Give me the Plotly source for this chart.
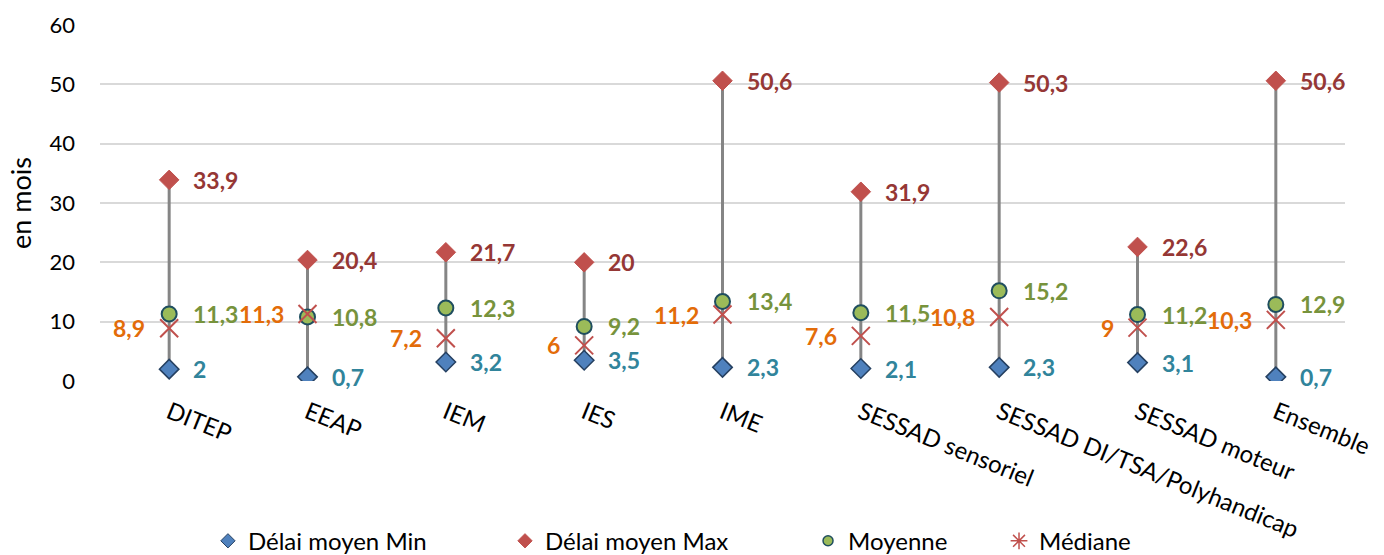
import plotly.graph_objects as go

categories = ["DITEP", "EEAP", "IEM", "IES", "IME", "SESSAD sensoriel",
              "SESSAD DI/TSA/Polyhandicap", "SESSAD moteur", "Ensemble"]
delai_min = [2, 0.7, 3.2, 3.5, 2.3, 2.1, 2.3, 3.1, 0.7]
delai_max = [33.9, 20.4, 21.7, 20, 50.6, 31.9, 50.3, 22.6, 50.6]
moyenne = [11.3, 10.8, 12.3, 9.2, 13.4, 11.5, 15.2, 11.2, 12.9]
mediane = [8.9, 11.3, 7.2, 6, 11.2, 7.6, 10.8, 9, 10.3]
y_ticks = [0, 10, 20, 30, 40, 50, 60]

FONT = "Lato"


def fr(v):
    s = f"{v:g}"
    return s.replace(".", ",")


# name, values, marker style in the plot, marker style in the legend, label colour, label side
series = [
    ("Délai moyen Min", delai_min,
     dict(symbol="diamond", size=15, color="#4F81BD", line=dict(color="#254061", width=1.5)),
     dict(symbol="diamond", size=11, color="#4F81BD", line=dict(color="#254061", width=1)),
     "#31849B", "left", "legend", 0.0867),
    ("Délai moyen Max", delai_max,
     dict(symbol="diamond", size=15, color="#C0504D", line=dict(color="#C0504D", width=1)),
     dict(symbol="diamond", size=11, color="#C0504D", line=dict(color="#C0504D", width=1)),
     "#953735", "left", "legend2", 0.3253),
    ("Moyenne", moyenne,
     dict(symbol="circle", size=15, color="#9BBB59", line=dict(color="#1F4E5F", width=2)),
     dict(symbol="circle", size=10, color="#9BBB59", line=dict(color="#1F4E5F", width=1.5)),
     "#77933C", "left", "legend3", 0.5687),
    ("Médiane", mediane,
     dict(symbol="x-thin", size=18, color="#C0504D", line=dict(color="#C0504D", width=2)),
     dict(symbol="asterisk-open", size=14, color="#C0504D", line=dict(color="#C0504D", width=1.5)),
     "#E36C09", "right", "legend4", 0.7221),
]

fig = go.Figure()

# High-low lines between min and max
hx, hy = [], []
for c, lo, hi in zip(categories, delai_min, delai_max):
    hx += [c, c, None]
    hy += [lo, hi, None]
fig.add_trace(go.Scatter(x=hx, y=hy, mode="lines", line=dict(color="#858585", width=3),
                         showlegend=False, hoverinfo="skip"))

annotations = []
legends = {}
for name, values, mk, lmk, lcolor, side, leg, lx in series:
    fig.add_trace(go.Scatter(x=categories, y=values, mode="markers", name=name,
                             marker=mk, showlegend=False))
    # legend entry with its own symbol size
    fig.add_trace(go.Scatter(x=[None], y=[None], mode="markers", name=name,
                             marker=lmk, legend=leg, showlegend=True))
    legends[leg] = dict(orientation="h", x=lx, xanchor="left", y=-0.45, yanchor="middle",
                        font=dict(family=FONT, size=24, color="#000000"),
                        bgcolor="rgba(0,0,0,0)")
    shift = 22 if side == "left" else -22
    for c, v in zip(categories, values):
        annotations.append(dict(
            x=c, y=v, xref="x", yref="y", text=fr(v), showarrow=False,
            xanchor=side, yanchor="middle", xshift=shift,
            font=dict(family=FONT, size=23, color=lcolor, weight="bold")))

fig.update_layout(
    width=1384, height=555,
    margin=dict(l=100, r=39, t=25, b=174, autoexpand=False),
    paper_bgcolor="white", plot_bgcolor="white",
    font=dict(family=FONT, size=22, color="#000000"),
    annotations=annotations,
    showlegend=True,
    xaxis=dict(type="category", tickangle=22, showgrid=False, showline=False,
               ticks="", automargin=False, ticklabelstandoff=12,
               tickfont=dict(family=FONT, size=24, color="#000000"),
               range=[-0.5, len(categories) - 0.5]),
    yaxis=dict(range=[0, 60], tickvals=y_ticks, showgrid=True, gridcolor="#D9D9D9",
               gridwidth=2, zeroline=False, showline=False, ticks="",
               automargin=False, ticklabelstandoff=24,
               tickfont=dict(family=FONT, size=22, color="#000000"),
               title=dict(text="en mois", font=dict(family=FONT, size=27, color="#000000"),
                          standoff=10)),
    **legends,
)

fig.write_html("out.html")
